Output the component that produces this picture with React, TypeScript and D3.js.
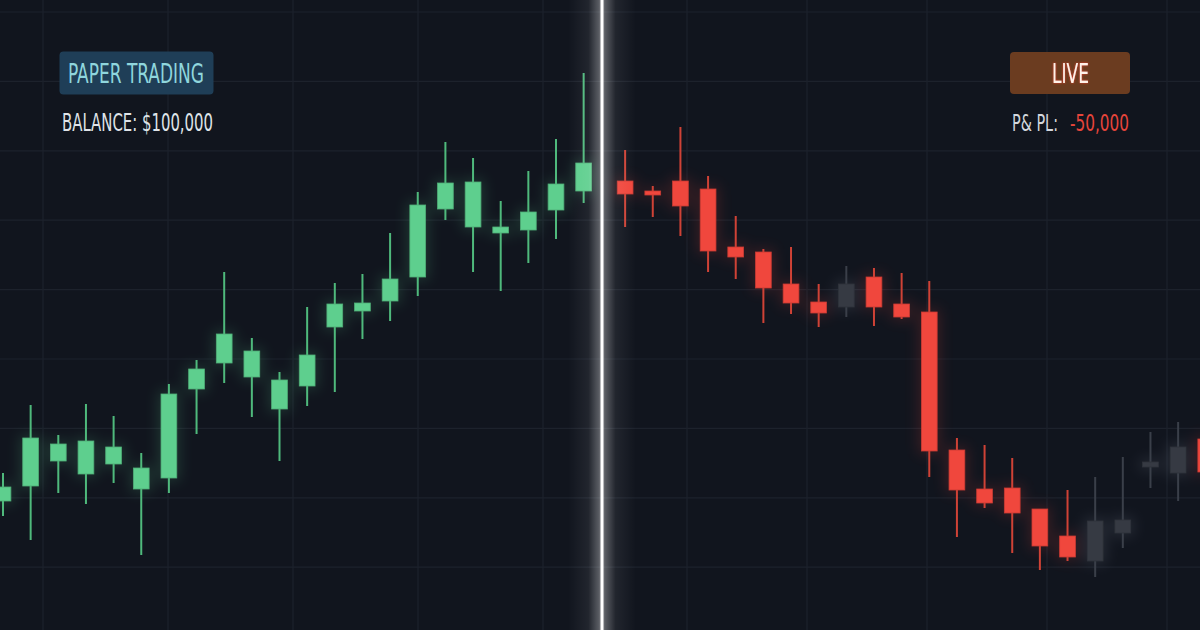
import React from "react";
import * as d3 from "d3";

// ---- Data (price units) ----
// Paper trading session (left half)
const paperOpen = [79.9, 81.4, 83.9, 82.6, 83.6, 81.1, 82.2, 91.1, 93.7, 92.3, 89.1, 91.4, 97.3, 98.9, 99.9, 102.3, 109.1, 107.3, 106.7, 107.0, 109.0, 110.9];
const paperHigh = [82.7, 89.5, 86.5, 89.6, 88.4, 84.7, 91.6, 94.0, 102.8, 96.2, 92.8, 99.3, 101.7, 102.6, 106.7, 110.8, 115.8, 114.2, 109.9, 112.9, 116.1, 122.7];
const paperLow = [78.4, 76.0, 80.7, 79.6, 81.7, 74.5, 80.7, 86.6, 91.7, 88.3, 83.9, 89.4, 90.8, 96.1, 97.9, 100.4, 108.0, 102.8, 100.9, 103.7, 106.1, 109.7];
const paperClose = [81.3, 86.2, 85.6, 85.9, 85.3, 83.2, 90.6, 93.1, 96.6, 94.9, 92.0, 94.5, 99.6, 99.7, 102.1, 109.5, 111.7, 111.8, 107.3, 108.8, 111.6, 113.7];

// Live session (right half)
const liveOpen = [111.9, 110.9, 111.9, 111.1, 105.3, 104.8, 101.6, 99.8, 101.6, 102.3, 99.6, 98.8, 85.0, 81.1, 81.2, 79.1, 76.4, 77.9, 78.0, 83.8, 85.3, 86.1];
const liveHigh = [115.0, 111.4, 117.3, 112.4, 108.4, 105.1, 105.3, 101.6, 103.4, 103.2, 102.7, 101.9, 86.2, 85.5, 84.2, 79.1, 81.0, 82.3, 84.3, 86.8, 87.8, 87.4];
const liveLow = [107.3, 108.3, 106.4, 102.8, 102.1, 97.7, 98.6, 97.3, 98.3, 97.4, 98.1, 82.3, 76.3, 79.2, 74.7, 73.0, 73.9, 72.3, 75.2, 81.2, 79.9, 81.6];
const liveClose = [110.6, 110.5, 109.4, 104.9, 104.3, 101.2, 99.7, 98.7, 99.3, 99.3, 98.3, 84.9, 81.0, 79.7, 78.7, 75.4, 74.3, 73.9, 76.7, 83.3, 82.7, 82.8];
// candles drawn muted (grey) in the live session
const liveMuted = [8, 17, 18, 19, 20];

const paperLabel = "PAPER TRADING";
const balanceLabel = "BALANCE: $100,000";
const liveLabel = "LIVE";
const pnlLabel = "P& PL:";
const pnlValue = "-50,000";

const W = 1200;
const H = 630;

type Candle = { x: number; o: number; h: number; l: number; c: number; kind: "up" | "down" | "muted" };

export default function App() {
  const x = d3.scaleLinear().domain([0, 43.5]).range([3, 3 + 43.5 * 27.65]);
  const y = d3.scaleLinear().domain([67, 130]).range([H, 0]);
  const bodyW = (x(1) - x(0)) * 0.57;

  const candles: Candle[] = [];
  paperOpen.forEach((o, i) =>
    candles.push({ x: i, o, h: paperHigh[i], l: paperLow[i], c: paperClose[i], kind: "up" })
  );
  liveOpen.forEach((o, j) =>
    candles.push({
      x: 22.5 + j,
      o,
      h: liveHigh[j],
      l: liveLow[j],
      c: liveClose[j],
      kind: liveMuted.includes(j) ? "muted" : "down",
    })
  );

  const bodyFill = { up: "#5ecf8e", down: "#f0473d", muted: "#363a43" };
  const wickFill = { up: "#4fb97c", down: "#cf4236", muted: "#3a3f49" };
  const glowFill = { up: "#5ecf8e", down: "#f0473d", muted: "#8a93a3" };

  const gridY = d3.range(12, H, 69.4);
  const gridXLeft = d3.range(43, 600, 125);
  const gridXRight = d3.range(687, W, 120);

  const font = "'Liberation Sans Narrow', 'DejaVu Sans Condensed', 'Roboto', sans-serif";

  return (
    <svg width={W} height={H} style={{ position: "fixed", left: 0, top: 0, display: "block" }}>
      <defs>
        <filter id="candleGlow" x="-200%" y="-50%" width="500%" height="200%">
          <feGaussianBlur stdDeviation="7" />
        </filter>
        <linearGradient id="divGlow" x1="0" x2="1" y1="0" y2="0">
          <stop offset="0" stopColor="#ffffff" stopOpacity="0" />
          <stop offset="0.3" stopColor="#ffffff" stopOpacity="0.07" />
          <stop offset="0.45" stopColor="#ffffff" stopOpacity="0.3" />
          <stop offset="0.5" stopColor="#ffffff" stopOpacity="0.48" />
          <stop offset="0.55" stopColor="#ffffff" stopOpacity="0.3" />
          <stop offset="0.7" stopColor="#ffffff" stopOpacity="0.07" />
          <stop offset="1" stopColor="#ffffff" stopOpacity="0" />
        </linearGradient>
        <filter id="liveGlow" x="-20%" y="-30%" width="140%" height="160%">
          <feGaussianBlur in="SourceAlpha" stdDeviation="1.2" result="b" />
          <feFlood floodColor="#ff3b2a" floodOpacity="0.9" />
          <feComposite in2="b" operator="in" result="g" />
          <feMerge>
            <feMergeNode in="g" />
            <feMergeNode in="SourceGraphic" />
          </feMerge>
        </filter>
      </defs>

      <rect x={0} y={0} width={W} height={H} fill="#11151e" />

      {/* grid */}
      <g stroke="#1d222c" strokeWidth={1.2}>
        {gridY.map((gy, i) => (
          <line key={"gy" + i} x1={0} x2={W} y1={gy} y2={gy} />
        ))}
        {gridXLeft.concat(gridXRight).map((gx, i) => (
          <line key={"gx" + i} x1={gx} x2={gx} y1={0} y2={H} />
        ))}
      </g>

      {/* candle glow */}
      <g filter="url(#candleGlow)" opacity={0.18}>
        {candles.map((d, i) => {
          const top = y(Math.max(d.o, d.c));
          const bot = y(Math.min(d.o, d.c));
          return (
            <rect
              key={"g" + i}
              x={x(d.x) - bodyW / 2 - 3}
              y={top - 3}
              width={bodyW + 6}
              height={bot - top + 6}
              fill={glowFill[d.kind]}
            />
          );
        })}
      </g>

      {/* candles */}
      <g>
        {candles.map((d, i) => {
          const cx = x(d.x);
          const top = y(Math.max(d.o, d.c));
          const bot = y(Math.min(d.o, d.c));
          return (
            <g key={"c" + i}>
              <rect x={cx - 1} y={y(d.h)} width={2} height={y(d.l) - y(d.h)} fill={wickFill[d.kind]} />
              <rect
                x={cx - bodyW / 2}
                y={top}
                width={bodyW}
                height={Math.max(bot - top, 3)}
                fill={bodyFill[d.kind]}
                stroke={d.kind === "muted" ? "#2f333b" : d3.color(bodyFill[d.kind])!.darker(0.5).toString()}
                strokeWidth={0.8}
              />
            </g>
          );
        })}
      </g>

      {/* divider */}
      <rect x={568} y={0} width={68} height={H} fill="url(#divGlow)" />
      <rect x={600.5} y={0} width={3} height={H} fill="#ffffff" />

      {/* left labels */}
      <rect x={59.5} y={51.5} width={154} height={43} rx={4} fill="#1f3e57" />
      <text
        x={68}
        y={83}
        fontFamily={font}
        fontSize={27}
        fill="#8fd6dd"
        textLength={136}
        lengthAdjust="spacingAndGlyphs"
      >
        {paperLabel}
      </text>
      <text
        x={62}
        y={131}
        fontFamily={font}
        fontSize={24}
        fill="#dfe3e8"
        textLength={151}
        lengthAdjust="spacingAndGlyphs"
      >
        {balanceLabel}
      </text>

      {/* right labels */}
      <rect x={1010} y={52} width={120} height={42} rx={4} fill="#6b3c20" />
      <text
        x={1052}
        y={83}
        fontFamily={font}
        fontSize={27}
        fill="#fff1e8"
        textLength={37}
        lengthAdjust="spacingAndGlyphs"
        filter="url(#liveGlow)"
      >
        {liveLabel}
      </text>
      <g transform="translate(1012,131) scale(1,1.45)">
        <text x={0} y={0} fontFamily={font} fontSize={16} fill="#d3d7dd">
          {pnlLabel}
        </text>
      </g>
      <g transform="translate(1129,131) scale(1,1.4)">
        <text x={0} y={0} fontFamily={font} fontSize={17} fill="#e8453b" textAnchor="end">
          {pnlValue}
        </text>
      </g>
    </svg>
  );
}
